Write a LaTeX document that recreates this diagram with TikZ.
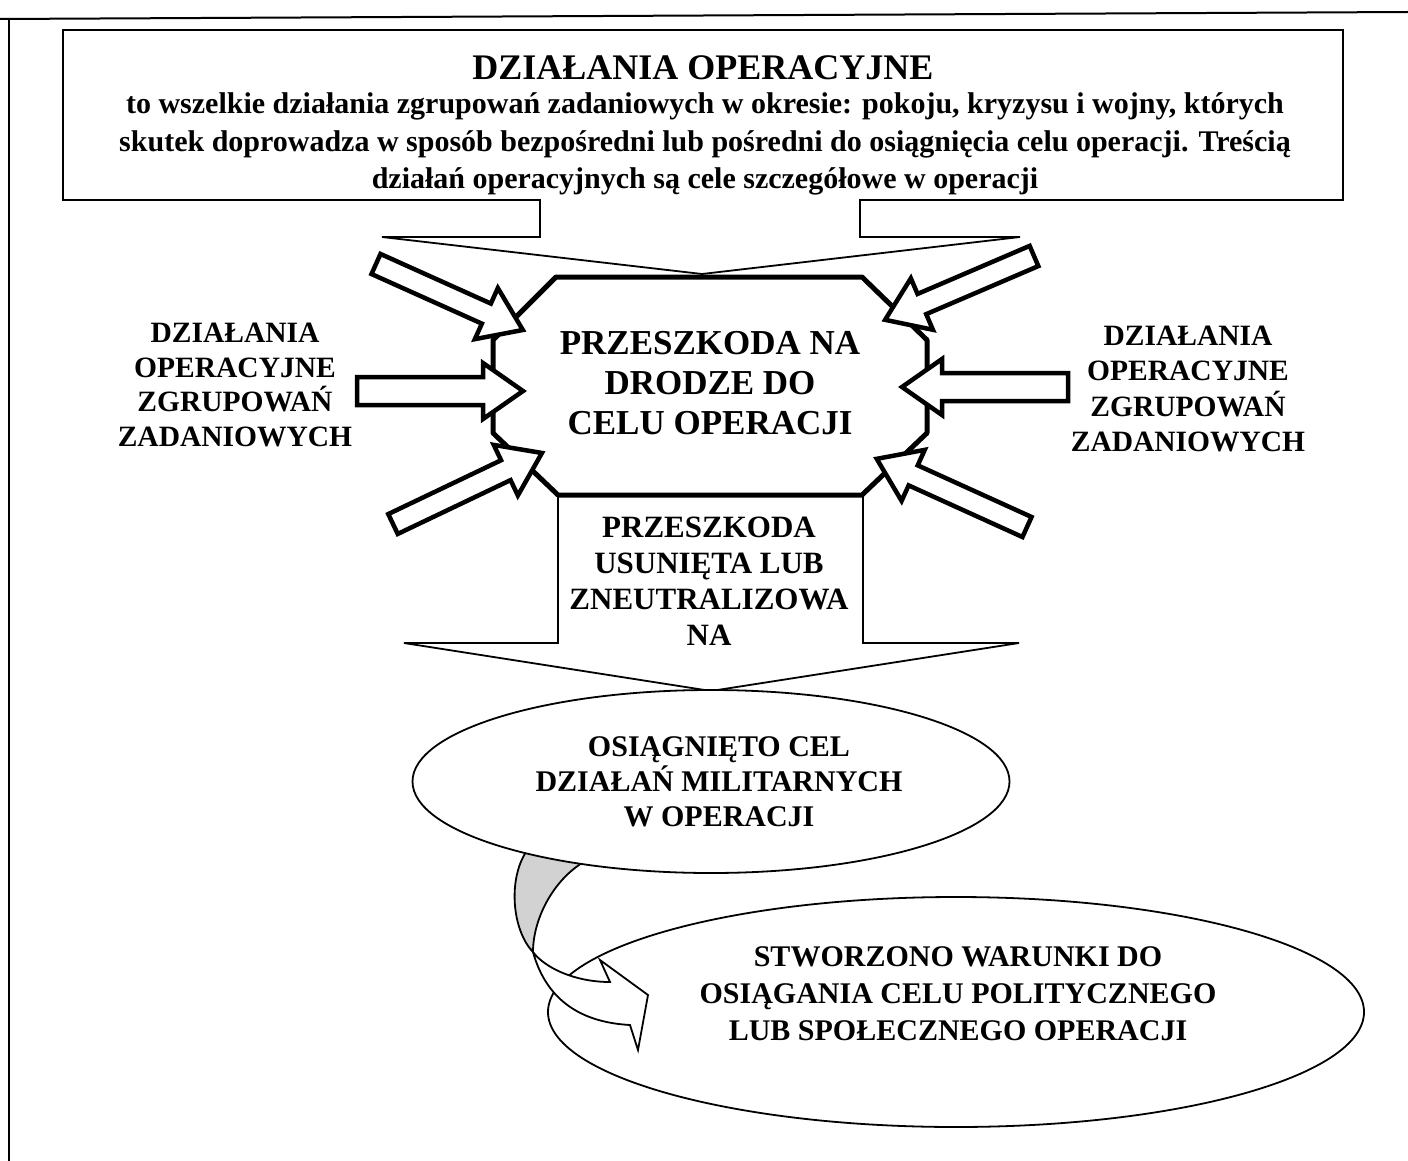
\documentclass[tikz,border=0pt]{standalone}
\usepackage{fontspec}
\setmainfont{Liberation Serif}
\begin{document}
\begin{tikzpicture}[x=1pt,y=-1pt,
  thin line/.style={line width=1.8pt, line join=miter},
  blk/.style={draw=black, fill=white, line width=4.5pt, line join=miter, miter limit=10},
  oct/.style={draw=black, fill=white, line width=5pt, line join=round},
  lbl/.style={inner sep=0pt, align=center, font=\bfseries},
]
\newcommand{\barrow}[5]{\begin{scope}[shift={(#1,#2)},rotate=#3]
  \draw[blk] (0,-#5) -- ({#4-40},-#5) -- ({#4-40},-28) -- (#4,0) -- ({#4-40},28) -- ({#4-40},#5) -- (0,#5) -- cycle;
\end{scope}}
\useasboundingbox (0,0) rectangle (1408,1161);
% outer frame
\draw[line width=2pt] (0,19) -- (1408,12);
\draw[line width=2pt] (9,19) -- (9,1161);
% top callout
\draw[thin line, fill=white] (63,30) -- (1343,30) -- (1343,200) -- (860,200) -- (860,237) -- (1020,237) -- (702,274)
  -- (382,237) -- (540,237) -- (540,200) -- (63,200) -- cycle;
% lower callout
\draw[thin line, fill=white] (558,495) -- (558,643) -- (404,643) -- (711,691) -- (1019,643) -- (863,643) -- (863,495);
% octagon
\draw[oct] (556,277) -- (862,277) -- (927,340) -- (927,433) -- (862,495) -- (558,495) -- (493,433) -- (493,340) -- cycle;
% block arrows
\barrow{376}{264}{-24.2}{161}{11}
\barrow{393}{524}{25.5}{165}{11}
\barrow{1034}{256}{-156.8}{162}{11}
\barrow{1027}{527}{155.6}{165}{11}
\barrow{357}{391}{0}{166}{14}
\barrow{1068}{387}{180}{166}{14}
% ellipse 2
\draw[thin line, fill=white] (956,1012) ellipse [x radius=408, y radius=115];
% curved arrow
\coordinate (e1) at (526,852);
\coordinate (e2) at (582,863);
\coordinate (xx) at (533,952);
\coordinate (un) at (610,982);
\coordinate (ba) at (600,960);
\coordinate (tp) at (648,995);
\coordinate (bb) at (638,1050);
\coordinate (ln) at (630,1025);
\draw[thin line, fill=gray!35] (e1) .. controls (508,880) and (512,930) .. (xx)
  .. controls (533,920) and (552,882) .. (e2) -- cycle;
\draw[thin line, fill=white] (xx) .. controls (545,968) and (575,982) .. (un) -- (ba) -- (tp) -- (bb) -- (ln)
  .. controls (575,1022) and (545,995) .. (xx) -- cycle;
% ellipse 1
\draw[thin line, fill=white] (711,781.5) ellipse [x radius=298.5, y radius=91.5];
% texts
\node[lbl, font=\bfseries\fontsize{36}{40}\selectfont] (title) at (703,68) {DZIAŁANIA OPERACYJNE};
\node[lbl, font=\bfseries\fontsize{30}{37.5}\selectfont] (desc) at (705,144) {to wszelkie działania zgrupowań zadaniowych w okresie: pokoju, kryzysu i wojny, których\\skutek doprowadza w sposób bezpośredni lub pośredni do osiągnięcia celu operacji. Treścią\\działań operacyjnych są cele szczegółowe w operacji};
\node[lbl, font=\bfseries\fontsize{35}{40}\selectfont] (obst) at (710,383) {PRZESZKODA NA\\DRODZE DO\\CELU OPERACJI};
\node[lbl, font=\bfseries\fontsize{29.5}{34.5}\selectfont] (leftl) at (235,385) {DZIAŁANIA\\OPERACYJNE\\ZGRUPOWAŃ\\ZADANIOWYCH};
\node[lbl, font=\bfseries\fontsize{29.5}{35.5}\selectfont] (rightl) at (1188,389) {DZIAŁANIA\\OPERACYJNE\\ZGRUPOWAŃ\\ZADANIOWYCH};
\node[lbl, font=\bfseries\fontsize{31}{36}\selectfont] (removed) at (709,581) {PRZESZKODA\\USUNIĘTA LUB\\ZNEUTRALIZOWA\\NA};
\node[lbl, font=\bfseries\fontsize{30}{35}\selectfont] (goal1) at (719,782) {OSIĄGNIĘTO CEL\\DZIAŁAŃ MILITARNYCH\\W OPERACJI};
\node[lbl, font=\bfseries\fontsize{30}{37}\selectfont] (goal2) at (958,994) {STWORZONO WARUNKI DO\\OSIĄGANIA CELU POLITYCZNEGO\\LUB SPOŁECZNEGO OPERACJI};
\end{tikzpicture}
\end{document}
